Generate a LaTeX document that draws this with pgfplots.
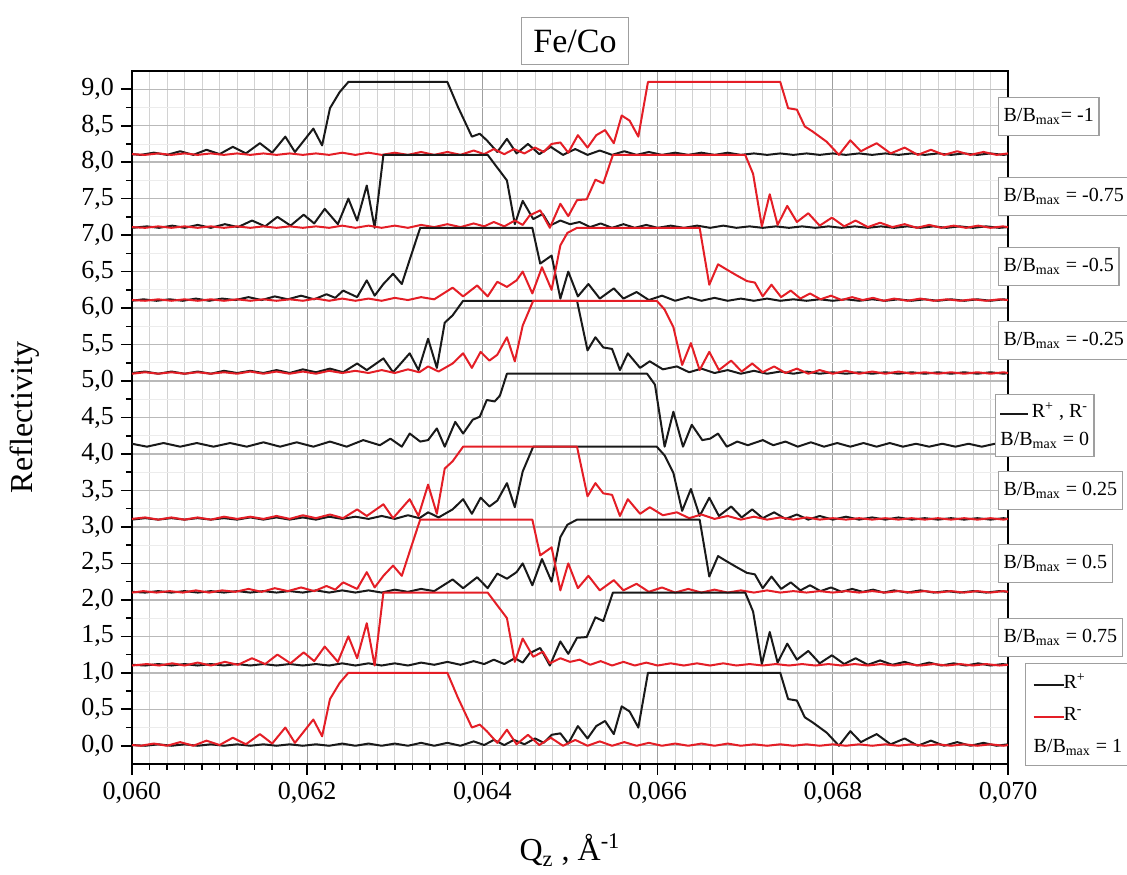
\documentclass[border=0pt]{standalone}
\usepackage{fontspec}
\setmainfont{Liberation Serif}
\usepackage{pgfplots}
\usepackage{pgfplotstable}
\pgfplotsset{compat=1.18}
\definecolor{cred}{RGB}{228,30,38}
\definecolor{cblk}{RGB}{25,25,25}
\tikzset{blk/.style={cblk,line width=1pt,line join=round,mark=none},
 rd/.style={cred,line width=1pt,line join=round,mark=none},
 lab/.style={draw=gray!75,line width=0.6pt,fill=white,anchor=west,inner xsep=2.5pt,inner ysep=3pt,minimum height=19pt,font=\fontsize{10}{12}\selectfont}}
\newcommand{\Bm}{B/B\textsubscript{max}}

\pgfplotstableread[row sep=\\]{
x y\\
0.06000 0.01\\ 0.06010 0.00\\ 0.06025 0.03\\ 0.06040 0.00\\ 0.06055 0.05\\ 0.06070 0.00\\ 0.06085 0.07\\ 0.06100 0.01\\ 0.06115 0.11\\ 0.06130 0.02\\
0.06146 0.16\\ 0.06160 0.03\\ 0.06175 0.25\\ 0.06186 0.04\\ 0.06207 0.36\\ 0.06217 0.13\\ 0.06226 0.64\\ 0.06237 0.86\\ 0.06247 1.00\\ 0.06360 1.00\\
0.06372 0.66\\ 0.06388 0.25\\ 0.06397 0.29\\ 0.06405 0.20\\ 0.06417 0.04\\ 0.06428 0.22\\ 0.06439 0.02\\ 0.06452 0.15\\ 0.06465 0.01\\ 0.06478 0.11\\
0.06492 0.00\\ 0.06506 0.08\\ 0.06520 0.00\\ 0.06534 0.06\\ 0.06548 0.00\\ 0.06562 0.05\\ 0.06576 0.00\\ 0.06590 0.04\\ 0.06605 0.00\\ 0.06620 0.03\\
0.06635 0.00\\ 0.06650 0.03\\ 0.06665 0.00\\ 0.06680 0.03\\ 0.06695 0.00\\ 0.06710 0.02\\ 0.06725 0.00\\ 0.06740 0.02\\ 0.06755 0.00\\ 0.06770 0.02\\
0.06785 0.00\\ 0.06800 0.02\\ 0.06815 0.00\\ 0.06830 0.02\\ 0.06845 0.00\\ 0.06860 0.02\\ 0.06875 0.00\\ 0.06890 0.02\\ 0.06905 0.00\\ 0.06920 0.02\\
0.06935 0.00\\ 0.06950 0.02\\ 0.06965 0.00\\ 0.06980 0.02\\ 0.06995 0.00\\ 0.07000 0.01\\
}\Lone

\pgfplotstableread[row sep=\\]{
x y\\
0.06000 0.01\\ 0.06015 0.00\\ 0.06030 0.02\\ 0.06045 0.00\\ 0.06060 0.02\\ 0.06075 0.00\\ 0.06090 0.02\\ 0.06105 0.00\\ 0.06120 0.02\\ 0.06135 0.00\\
0.06150 0.02\\ 0.06165 0.00\\ 0.06180 0.02\\ 0.06195 0.00\\ 0.06210 0.02\\ 0.06225 0.00\\ 0.06240 0.03\\ 0.06255 0.00\\ 0.06270 0.03\\ 0.06285 0.00\\
0.06300 0.03\\ 0.06315 0.00\\ 0.06330 0.04\\ 0.06345 0.00\\ 0.06360 0.04\\ 0.06375 0.00\\ 0.06390 0.06\\ 0.06402 0.01\\ 0.06413 0.08\\ 0.06425 0.01\\
0.06436 0.08\\ 0.06448 0.02\\ 0.06460 0.10\\ 0.06470 0.04\\ 0.06479 0.15\\ 0.06489 0.17\\ 0.06498 0.03\\ 0.06509 0.27\\ 0.06520 0.10\\ 0.06530 0.27\\
0.06540 0.34\\ 0.06550 0.16\\ 0.06559 0.54\\ 0.06568 0.47\\ 0.06578 0.25\\ 0.06589 1.00\\ 0.06740 1.00\\ 0.06749 0.64\\ 0.06759 0.62\\ 0.06768 0.39\\
0.06777 0.32\\ 0.06793 0.18\\ 0.06807 0.00\\ 0.06820 0.20\\ 0.06832 0.05\\ 0.06850 0.16\\ 0.06866 0.02\\ 0.06882 0.10\\ 0.06897 0.00\\ 0.06912 0.07\\
0.06927 0.00\\ 0.06942 0.05\\ 0.06957 0.00\\ 0.06972 0.04\\ 0.06987 0.00\\ 0.07000 0.02\\
}\Rone

\pgfplotstableread[row sep=\\]{
x y\\
0.06000 0.00\\ 0.06017 0.02\\ 0.06031 0.00\\ 0.06046 0.03\\ 0.06060 0.00\\ 0.06075 0.04\\ 0.06090 0.00\\ 0.06106 0.05\\ 0.06121 0.01\\ 0.06137 0.10\\
0.06152 0.02\\ 0.06166 0.15\\ 0.06181 0.03\\ 0.06196 0.18\\ 0.06208 0.06\\ 0.06220 0.26\\ 0.06235 0.05\\ 0.06247 0.40\\ 0.06257 0.10\\ 0.06268 0.58\\
0.06277 0.00\\ 0.06287 1.00\\ 0.06406 1.00\\ 0.06428 0.65\\ 0.06437 0.05\\ 0.06446 0.37\\ 0.06458 0.12\\ 0.06469 0.19\\ 0.06477 0.03\\ 0.06489 0.10\\
0.06500 0.05\\ 0.06511 0.08\\ 0.06523 0.01\\ 0.06535 0.06\\ 0.06548 0.00\\ 0.06561 0.05\\ 0.06574 0.00\\ 0.06587 0.04\\ 0.06600 0.00\\ 0.06615 0.03\\
0.06630 0.00\\ 0.06645 0.03\\ 0.06660 0.00\\ 0.06675 0.03\\ 0.06690 0.00\\ 0.06705 0.02\\ 0.06720 0.00\\ 0.06735 0.02\\ 0.06750 0.00\\ 0.06765 0.02\\
0.06780 0.00\\ 0.06795 0.02\\ 0.06810 0.00\\ 0.06825 0.02\\ 0.06840 0.00\\ 0.06855 0.02\\ 0.06870 0.00\\ 0.06885 0.02\\ 0.06900 0.00\\ 0.06915 0.02\\
0.06930 0.00\\ 0.06945 0.02\\ 0.06960 0.00\\ 0.06975 0.02\\ 0.06990 0.00\\ 0.07000 0.01\\
}\Ltwo

\pgfplotstableread[row sep=\\]{
x y\\
0.06000 0.01\\ 0.06015 0.00\\ 0.06030 0.02\\ 0.06045 0.00\\ 0.06060 0.02\\ 0.06075 0.00\\ 0.06090 0.02\\ 0.06105 0.00\\ 0.06120 0.02\\ 0.06135 0.00\\
0.06150 0.02\\ 0.06165 0.00\\ 0.06180 0.02\\ 0.06195 0.00\\ 0.06210 0.02\\ 0.06225 0.00\\ 0.06240 0.03\\ 0.06255 0.00\\ 0.06270 0.03\\ 0.06285 0.00\\
0.06300 0.03\\ 0.06315 0.00\\ 0.06330 0.04\\ 0.06345 0.01\\ 0.06360 0.05\\ 0.06375 0.01\\ 0.06390 0.06\\ 0.06402 0.02\\ 0.06413 0.08\\ 0.06425 0.02\\
0.06437 0.10\\ 0.06446 0.04\\ 0.06454 0.17\\ 0.06466 0.24\\ 0.06477 0.00\\ 0.06489 0.33\\ 0.06498 0.16\\ 0.06508 0.38\\ 0.06519 0.39\\ 0.06529 0.66\\
0.06538 0.61\\ 0.06549 1.00\\ 0.06700 1.00\\ 0.06709 0.74\\ 0.06719 0.02\\ 0.06728 0.46\\ 0.06737 0.04\\ 0.06748 0.30\\ 0.06759 0.08\\ 0.06772 0.20\\
0.06785 0.03\\ 0.06799 0.14\\ 0.06813 0.02\\ 0.06826 0.10\\ 0.06840 0.01\\ 0.06854 0.07\\ 0.06868 0.01\\ 0.06882 0.05\\ 0.06896 0.00\\ 0.06910 0.04\\
0.06924 0.00\\ 0.06938 0.03\\ 0.06952 0.00\\ 0.06966 0.03\\ 0.06980 0.00\\ 0.06994 0.02\\ 0.07000 0.01\\
}\Rtwo

\pgfplotstableread[row sep=\\]{
x y\\
0.06000 0.00\\ 0.06013 0.02\\ 0.06028 0.00\\ 0.06043 0.02\\ 0.06058 0.00\\ 0.06073 0.03\\ 0.06088 0.00\\ 0.06103 0.03\\ 0.06118 0.01\\ 0.06133 0.05\\
0.06148 0.01\\ 0.06163 0.06\\ 0.06178 0.02\\ 0.06193 0.07\\ 0.06208 0.02\\ 0.06222 0.09\\ 0.06232 0.04\\ 0.06241 0.14\\ 0.06257 0.05\\ 0.06268 0.28\\
0.06277 0.07\\ 0.06287 0.23\\ 0.06298 0.37\\ 0.06308 0.23\\ 0.06318 0.60\\ 0.06329 1.00\\ 0.06457 1.00\\ 0.06466 0.51\\ 0.06479 0.62\\ 0.06489 0.03\\
0.06498 0.40\\ 0.06509 0.06\\ 0.06521 0.23\\ 0.06534 0.03\\ 0.06550 0.17\\ 0.06561 0.03\\ 0.06576 0.12\\ 0.06590 0.01\\ 0.06605 0.07\\ 0.06620 0.00\\
0.06635 0.05\\ 0.06650 0.00\\ 0.06665 0.04\\ 0.06680 0.00\\ 0.06695 0.03\\ 0.06710 0.00\\ 0.06725 0.03\\ 0.06740 0.00\\ 0.06755 0.02\\ 0.06770 0.00\\
0.06785 0.02\\ 0.06800 0.00\\ 0.06815 0.02\\ 0.06830 0.00\\ 0.06845 0.02\\ 0.06860 0.00\\ 0.06875 0.02\\ 0.06890 0.00\\ 0.06905 0.02\\ 0.06920 0.00\\
0.06935 0.02\\ 0.06950 0.00\\ 0.06965 0.02\\ 0.06980 0.00\\ 0.06995 0.02\\ 0.07000 0.01\\
}\Lthree

\pgfplotstableread[row sep=\\]{
x y\\
0.06000 0.01\\ 0.06015 0.00\\ 0.06030 0.02\\ 0.06045 0.00\\ 0.06060 0.02\\ 0.06075 0.00\\ 0.06090 0.02\\ 0.06105 0.00\\ 0.06120 0.02\\ 0.06135 0.00\\
0.06150 0.02\\ 0.06165 0.00\\ 0.06180 0.02\\ 0.06195 0.00\\ 0.06210 0.03\\ 0.06225 0.00\\ 0.06240 0.03\\ 0.06255 0.00\\ 0.06270 0.03\\ 0.06285 0.00\\
0.06300 0.04\\ 0.06315 0.01\\ 0.06330 0.05\\ 0.06345 0.02\\ 0.06366 0.18\\ 0.06378 0.06\\ 0.06394 0.21\\ 0.06406 0.06\\ 0.06417 0.26\\ 0.06428 0.19\\
0.06439 0.28\\ 0.06446 0.40\\ 0.06457 0.10\\ 0.06468 0.46\\ 0.06479 0.15\\ 0.06489 0.76\\ 0.06497 0.93\\ 0.06508 1.00\\ 0.06648 1.00\\ 0.06659 0.22\\
0.06669 0.50\\ 0.06680 0.42\\ 0.06690 0.35\\ 0.06702 0.27\\ 0.06711 0.25\\ 0.06720 0.06\\ 0.06730 0.22\\ 0.06741 0.05\\ 0.06752 0.14\\ 0.06763 0.03\\
0.06774 0.10\\ 0.06786 0.02\\ 0.06798 0.07\\ 0.06810 0.01\\ 0.06822 0.05\\ 0.06834 0.01\\ 0.06846 0.04\\ 0.06858 0.00\\ 0.06870 0.03\\ 0.06885 0.00\\
0.06900 0.03\\ 0.06915 0.00\\ 0.06930 0.02\\ 0.06945 0.00\\ 0.06960 0.02\\ 0.06975 0.00\\ 0.06990 0.02\\ 0.07000 0.01\\
}\Rthree

\pgfplotstableread[row sep=\\]{
x y\\
0.06000 0.01\\ 0.06015 0.03\\ 0.06030 0.00\\ 0.06045 0.03\\ 0.06060 0.00\\ 0.06075 0.03\\ 0.06090 0.00\\ 0.06105 0.04\\ 0.06120 0.01\\ 0.06135 0.04\\
0.06150 0.01\\ 0.06165 0.05\\ 0.06180 0.01\\ 0.06195 0.06\\ 0.06210 0.02\\ 0.06226 0.07\\ 0.06241 0.02\\ 0.06257 0.14\\ 0.06268 0.05\\ 0.06287 0.21\\
0.06298 0.02\\ 0.06317 0.28\\ 0.06327 0.05\\ 0.06338 0.48\\ 0.06348 0.08\\ 0.06357 0.70\\ 0.06366 0.80\\ 0.06378 1.00\\ 0.06508 1.00\\ 0.06520 0.32\\
0.06529 0.50\\ 0.06538 0.36\\ 0.06548 0.34\\ 0.06557 0.05\\ 0.06566 0.28\\ 0.06580 0.08\\ 0.06591 0.17\\ 0.06606 0.06\\ 0.06622 0.10\\ 0.06636 0.02\\
0.06650 0.07\\ 0.06665 0.01\\ 0.06680 0.05\\ 0.06695 0.00\\ 0.06710 0.04\\ 0.06725 0.00\\ 0.06740 0.03\\ 0.06755 0.00\\ 0.06770 0.03\\ 0.06785 0.00\\
0.06800 0.02\\ 0.06815 0.00\\ 0.06830 0.02\\ 0.06845 0.00\\ 0.06860 0.02\\ 0.06875 0.00\\ 0.06890 0.02\\ 0.06905 0.00\\ 0.06920 0.02\\ 0.06935 0.00\\
0.06950 0.02\\ 0.06965 0.00\\ 0.06980 0.02\\ 0.06995 0.00\\ 0.07000 0.01\\
}\Lfour

\pgfplotstableread[row sep=\\]{
x y\\
0.06000 0.00\\ 0.06015 0.02\\ 0.06030 0.00\\ 0.06045 0.02\\ 0.06060 0.00\\ 0.06075 0.02\\ 0.06090 0.00\\ 0.06105 0.02\\ 0.06120 0.00\\ 0.06135 0.03\\
0.06150 0.00\\ 0.06165 0.03\\ 0.06180 0.00\\ 0.06195 0.03\\ 0.06210 0.00\\ 0.06225 0.04\\ 0.06240 0.01\\ 0.06255 0.04\\ 0.06270 0.01\\ 0.06285 0.05\\
0.06300 0.01\\ 0.06315 0.06\\ 0.06328 0.02\\ 0.06338 0.10\\ 0.06350 0.03\\ 0.06366 0.14\\ 0.06378 0.28\\ 0.06388 0.08\\ 0.06398 0.30\\ 0.06408 0.18\\
0.06417 0.26\\ 0.06428 0.50\\ 0.06437 0.17\\ 0.06446 0.66\\ 0.06458 1.00\\ 0.06599 1.00\\ 0.06608 0.88\\ 0.06618 0.64\\ 0.06628 0.12\\ 0.06638 0.42\\
0.06648 0.05\\ 0.06659 0.30\\ 0.06670 0.05\\ 0.06684 0.18\\ 0.06696 0.03\\ 0.06708 0.14\\ 0.06720 0.02\\ 0.06733 0.10\\ 0.06746 0.01\\ 0.06759 0.07\\
0.06772 0.00\\ 0.06785 0.05\\ 0.06800 0.00\\ 0.06815 0.04\\ 0.06830 0.00\\ 0.06845 0.03\\ 0.06860 0.00\\ 0.06875 0.03\\ 0.06890 0.00\\ 0.06905 0.02\\
0.06920 0.00\\ 0.06935 0.02\\ 0.06950 0.00\\ 0.06965 0.02\\ 0.06980 0.00\\ 0.06995 0.02\\ 0.07000 0.01\\
}\Rfour

\pgfplotstableread[row sep=\\]{
x y\\
0.06000 0.04\\ 0.06017 0.00\\ 0.06036 0.05\\ 0.06055 0.00\\ 0.06074 0.05\\ 0.06093 0.00\\ 0.06112 0.05\\ 0.06131 0.00\\ 0.06150 0.06\\ 0.06169 0.00\\
0.06188 0.06\\ 0.06207 0.00\\ 0.06226 0.07\\ 0.06245 0.00\\ 0.06264 0.09\\ 0.06283 0.02\\ 0.06295 0.11\\ 0.06308 0.00\\ 0.06317 0.18\\ 0.06329 0.07\\
0.06338 0.09\\ 0.06348 0.25\\ 0.06357 0.00\\ 0.06369 0.34\\ 0.06378 0.18\\ 0.06389 0.37\\ 0.06397 0.41\\ 0.06405 0.64\\ 0.06414 0.62\\ 0.06420 0.70\\
0.06428 1.00\\ 0.06588 1.00\\ 0.06597 0.85\\ 0.06608 0.00\\ 0.06618 0.48\\ 0.06629 0.00\\ 0.06639 0.30\\ 0.06651 0.09\\ 0.06660 0.11\\ 0.06669 0.18\\
0.06679 0.00\\ 0.06691 0.07\\ 0.06703 0.02\\ 0.06720 0.09\\ 0.06732 0.02\\ 0.06746 0.07\\ 0.06760 0.00\\ 0.06775 0.06\\ 0.06790 0.00\\ 0.06805 0.05\\
0.06820 0.00\\ 0.06835 0.05\\ 0.06850 0.00\\ 0.06865 0.05\\ 0.06880 0.00\\ 0.06895 0.04\\ 0.06910 0.00\\ 0.06925 0.04\\ 0.06940 0.00\\ 0.06955 0.04\\
0.06970 0.00\\ 0.06985 0.04\\ 0.07000 0.01\\
}\Mzero

\begin{document}
\begin{tikzpicture}
\begin{axis}[
 scale only axis, width=438pt, height=346.5pt,
 xmin=0.060, xmax=0.070, ymin=-0.25, ymax=9.25,
 scaled x ticks=false,
 xtick={0.060,0.062,0.064,0.066,0.068,0.070},
 xticklabels={{0,060},{0,062},{0,064},{0,066},{0,068},{0,070}},
 ytick={0,0.5,1,1.5,2,2.5,3,3.5,4,4.5,5,5.5,6,6.5,7,7.5,8,8.5,9},
 yticklabels={{0,0},{0,5},{1,0},{1,5},{2,0},{2,5},{3,0},{3,5},{4,0},{4,5},{5,0},{5,5},{6,0},{6,5},{7,0},{7,5},{8,0},{8,5},{9,0}},
 minor x tick num=9, minor y tick num=1,
 tick pos=left, tick align=outside,
 major tick length=5.5pt, minor tick length=3pt,
 tick style={black, line width=0.8pt},
 axis line style={line width=1pt},
 grid=both,
 major x grid style={gray!75, line width=0.5pt},
 minor x grid style={gray!35, line width=0.4pt},
 major y grid style={gray!55, line width=0.7pt},
 minor y grid style={gray!15, line width=0.4pt},
 ticklabel style={font=\fontsize{13}{15}\selectfont},
 xlabel={Q\textsubscript{z} , Å\textsuperscript{-1}},
 ylabel={Reflectivity},
 label style={font=\fontsize{16}{18}\selectfont},
 x label style={at={(axis description cs:0.5,-0.124)},anchor=center},
 y label style={at={(axis description cs:-0.122,0.5)},anchor=center},
 clip mode=individual,
]
% B/Bmax = -1
\addplot[blk] table[x=x, y expr=\thisrow{y}+8.1]{\Lone};
\addplot[rd]  table[x=x, y expr=\thisrow{y}+8.1]{\Rone};
% -0.75
\addplot[blk] table[x=x, y expr=\thisrow{y}+7.1]{\Ltwo};
\addplot[rd]  table[x=x, y expr=\thisrow{y}+7.1]{\Rtwo};
% -0.5
\addplot[blk] table[x=x, y expr=\thisrow{y}+6.1]{\Lthree};
\addplot[rd]  table[x=x, y expr=\thisrow{y}+6.1]{\Rthree};
% -0.25
\addplot[blk] table[x=x, y expr=\thisrow{y}+5.1]{\Lfour};
\addplot[rd]  table[x=x, y expr=\thisrow{y}+5.1]{\Rfour};
% 0
\addplot[blk] table[x=x, y expr=\thisrow{y}+4.1]{\Mzero};
% 0.25
\addplot[blk] table[x=x, y expr=\thisrow{y}+3.1]{\Rfour};
\addplot[rd]  table[x=x, y expr=\thisrow{y}+3.1]{\Lfour};
% 0.5
\addplot[blk] table[x=x, y expr=\thisrow{y}+2.1]{\Rthree};
\addplot[rd]  table[x=x, y expr=\thisrow{y}+2.1]{\Lthree};
% 0.75
\addplot[blk] table[x=x, y expr=\thisrow{y}+1.1]{\Rtwo};
\addplot[rd]  table[x=x, y expr=\thisrow{y}+1.1]{\Ltwo};
% 1
\addplot[blk] table[x=x, y expr=\thisrow{y}]{\Rone};
\addplot[rd]  table[x=x, y expr=\thisrow{y}]{\Lone};

\coordinate (bl) at (rel axis cs:0,0);
\coordinate (tr) at (rel axis cs:1,1);

\node[draw=gray!75,line width=0.6pt,fill=white,minimum width=53.5pt,minimum height=23.5pt,font=\fontsize{17}{19}\selectfont,yshift=15pt] at (rel axis cs:0.5057,1) {Fe/Co};

\node[lab] at (axis cs:0.069886,8.63) {\Bm= -1};
\node[lab] at (axis cs:0.069886,7.53) {\Bm\ = -0.75};
\node[lab] at (axis cs:0.069886,6.57) {\Bm\ = -0.5};
\node[lab] at (axis cs:0.069886,5.56) {\Bm\ = -0.25};
\node[lab,align=left,inner ysep=4pt] at (axis cs:0.06985,4.39) {\textcolor{cblk}{\rule[0.3ex]{14pt}{1pt}}\,R\textsuperscript{+} , R\textsuperscript{-}\\[2pt] \Bm\ = 0};
\node[lab] at (axis cs:0.069886,3.50) {\Bm\ = 0.25};
\node[lab] at (axis cs:0.069886,2.50) {\Bm\ = 0.5};
\node[lab] at (axis cs:0.069886,1.48) {\Bm\ = 0.75};
\node[lab,align=left,inner xsep=4pt,inner ysep=5pt] at (axis cs:0.070194,0.43) {\textcolor{cblk}{\rule[0.3ex]{15pt}{1pt}}R\textsuperscript{+}\\[4pt] \textcolor{cred}{\rule[0.3ex]{15pt}{1pt}}R\textsuperscript{-}\\[4pt] \Bm\ = 1};
\end{axis}
\pgfresetboundingbox
\useasboundingbox ([xshift=-66pt,yshift=-55.5pt]bl) rectangle ([xshift=59.5pt,yshift=35.5pt]tr);
\end{tikzpicture}
\end{document}
